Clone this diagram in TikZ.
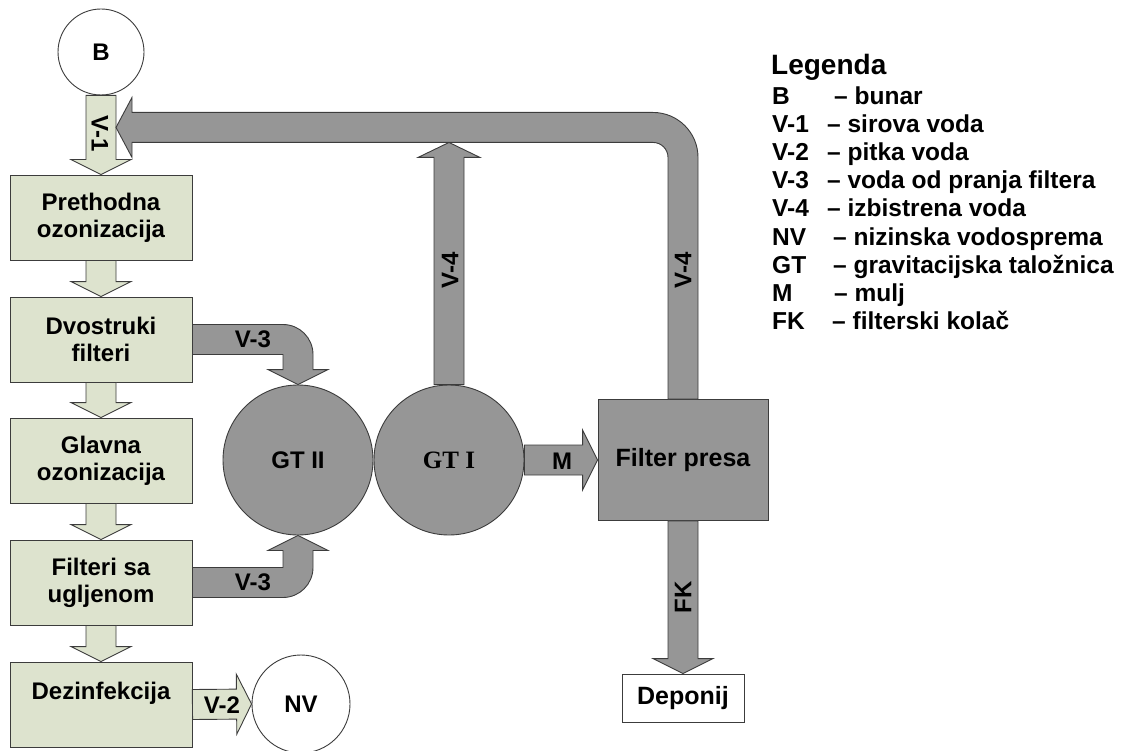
\documentclass[tikz,border=0pt]{standalone}
\usepackage{fontspec}
\setmainfont{Liberation Sans}
\newfontfamily\gtfont{Liberation Serif}
\usetikzlibrary{calc}

\definecolor{boxgreen}{RGB}{221,227,206}
\definecolor{pipegray}{RGB}{150,150,150}
\definecolor{edgegray}{RGB}{60,60,60}

\tikzset{
  procbox/.style={draw=edgegray, fill=boxgreen, line width=0.9pt, minimum width=182pt,
    minimum height=85pt, align=center, inner sep=0pt},
  tank/.style={circle, draw=edgegray, fill=pipegray, line width=0.9pt, minimum size=150pt, inner sep=0pt},
  well/.style={circle, draw=edgegray, fill=white, line width=0.9pt, inner sep=0pt},
  greenpipe/.style={draw=edgegray, fill=boxgreen, line width=0.9pt},
  graypipe/.style={draw=edgegray, fill=pipegray, line width=0.9pt},
  legtext/.style={anchor=base west, inner sep=0pt, font=\bfseries\fontsize{24.5}{28}\selectfont},
}

% Block arrow: style, from, to, half shaft, half head
\newcommand{\blockarr}[5]{%
  \draw[#1] ($(#2)!#4!90:(#3)$) -- ($(#3)!15pt!(#2)!#4!-90:(#2)$)
    -- ($(#3)!15pt!(#2)!#5!-90:(#2)$) -- (#3)
    -- ($(#3)!15pt!(#2)!#5!90:(#2)$) -- ($(#3)!15pt!(#2)!#4!90:(#2)$)
    -- ($(#2)!#4!-90:(#3)$) -- cycle;}

\begin{document}
\begin{tikzpicture}[x=1pt, y=-1pt, font=\bfseries\fontsize{24}{27}\selectfont]
        \useasboundingbox (0,0) rectangle (1123,751);

        % Treatment line (Left Column)
        \node[well, minimum size=86pt] (B) at (101,52) {B};
        \node[procbox] (pre) at (101,217.5) {Prethodna\\ozonizacija};
        \node[procbox] (dvo) at (101,339.5) {Dvostruki\\filteri};
        \node[procbox] (gla) at (101,460.5) {Glavna\\ozonizacija};
        \node[procbox] (fil) at (101,582.5) {Filteri sa\\ugljenom};
        \node[procbox] (dez) at (101,704.5) {Dezinfekcija\\\mbox{}};
        \node[well, minimum size=98pt] (NV) at (301,704) {NV};

        % Flow between stages
        \blockarr{greenpipe}{B.south}{pre.north}{15pt}{30pt}
        \foreach \a/\b in {pre/dvo, dvo/gla, gla/fil, fil/dez} {
            \blockarr{greenpipe}{\a.south}{\b.north}{15pt}{30pt}
        }
        \blockarr{greenpipe}{dez.east}{NV.west}{15pt}{30pt}

        % Settling tanks (GT II, GT I)
        \node[tank] (gt2) at (298,460) {GT II};
        \node[tank, font=\gtfont\bfseries\fontsize{25}{30}\selectfont] (gt1) at (449,460) {GT I};

        % Filter press and disposal
        \node[draw=edgegray, fill=pipegray, line width=0.9pt, minimum width=170pt,
            minimum height=121pt, font=\bfseries\fontsize{25}{30}\selectfont] (fp) at (683,460) {Filter presa};
        \node[draw=edgegray, fill=white, line width=0.9pt, minimum width=122pt,
            minimum height=48pt, font=\bfseries\fontsize{25}{30}\selectfont] (dep) at (683,698) {Deponij};

        % Wash water V-3 (bent arrows)
        \draw[graypipe] let \p1=(dvo.east), \p2=(gt2.north) in
            (\x1,\y1+15pt) -- (\x2-15pt,\y1+15pt) arc[start angle=90, end angle=0, radius=30pt]
            -- (\x2+15pt,\y2+15pt) -- (\x2+30pt,\y2+15pt) -- (\x2,\y2) -- (\x2-30pt,\y2+15pt)
            -- (\x2-15pt,\y2+15pt) -- (\x2-15pt,\y1-15pt) -- (\x1,\y1-15pt) -- cycle;
        \draw[graypipe] let \p1=(fil.east), \p2=(gt2.south) in
            (\x1,\y1-15pt) -- (\x2-15pt,\y1-15pt) arc[start angle=-90, end angle=0, radius=30pt]
            -- (\x2+15pt,\y2-15pt) -- (\x2+30pt,\y2-15pt) -- (\x2,\y2) -- (\x2-30pt,\y2-15pt)
            -- (\x2-15pt,\y2-15pt) -- (\x2-15pt,\y1+15pt) -- (\x1,\y1+15pt) -- cycle;

        % Sludge and filter cake
        \blockarr{graypipe}{gt1.east}{fp.west}{15pt}{30pt}
        \blockarr{graypipe}{fp.south}{dep.north}{15pt}{30pt}

        % Clarified water V-4 (back to raw water)
        \coordinate (retin) at ($(B.south)+(15,32)$);
        \coordinate (v4tip) at ($(gt1.north |- retin)+(0,15)$);
        \blockarr{graypipe}{gt1.north}{v4tip}{15pt}{31pt}
        \draw[graypipe] let \p1=(fp.north), \p2=(retin) in
            (\x1+15pt,\y1) -- (\x1+15pt,\y2-30pt) arc[start angle=0, end angle=90, radius=45pt]
            -- (\x2+16pt,\y2+15pt) -- (\x2+16pt,\y2+30pt) -- (\x2,\y2) -- (\x2+16pt,\y2-30pt)
            -- (\x2+16pt,\y2-15pt) -- (\x1-30pt,\y2-15pt) arc[start angle=90, end angle=0, radius=15pt]
            -- (\x1-15pt,\y1) -- cycle;

        % Pipe labels
        \node[rotate=-90] (lv1) at (100,134) {V-1};
        \node (lv3a) at (253,339) {V-3};
        \node (lv3b) at (253,582) {V-3};
        \node (lv2) at (222,705) {V-2};
        \node[rotate=90] (lv4a) at (450,270) {V-4};
        \node[rotate=90] (lv4b) at (683,270) {V-4};
        \node (lm) at (562,461) {M};
        \node[rotate=90] (lfk) at (683,597) {FK};

        % Legend (Right Side)
        \node[legtext, font=\bfseries\fontsize{28}{32}\selectfont] (leg) at (771,75) {Legenda};
        \foreach \abbr/\dx/\desc [count=\i from 0] in {B/834/bunar, V-1/827/sirova voda,
            V-2/827/pitka voda, V-3/827/voda od pranja filtera, V-4/827/izbistrena voda,
            NV/833/nizinska vodosprema, GT/833/gravitacijska taložnica, M/834/mulj,
            FK/832/filterski kolač} {
            \node[legtext] (ab\i) at (772,{105+28*\i}) {\abbr};
            \node[legtext] (de\i) at (\dx,{105+28*\i}) {– \desc};
        }

    \end{tikzpicture}
\end{document}
